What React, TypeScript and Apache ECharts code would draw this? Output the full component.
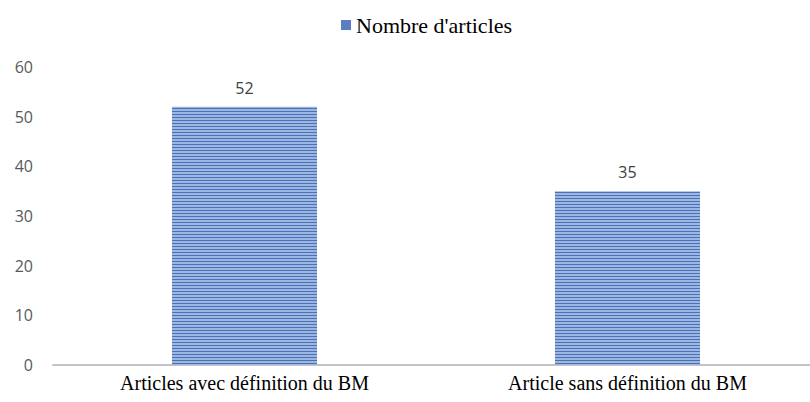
import React, { useEffect, useRef } from "react";
import * as echarts from "echarts";

const categories = ["Articles avec définition du BM", "Article sans définition du BM"];
const values = [52, 35];
const seriesName = "Nombre d'articles";
const yMin = 0;
const yMax = 60;
const yInterval = 10;

export default function App() {
  const ref = useRef<HTMLDivElement>(null);
  useEffect(() => {
    document.body.style.margin = "0";
    document.body.style.overflow = "hidden";
    const chart = echarts.init(ref.current!, null, { renderer: "svg" });
    chart.setOption({
      animation: false,
      backgroundColor: "#ffffff",
      legend: {
        data: [{ name: seriesName, itemStyle: { color: "#5b7ec3", decal: "none" } }],
        left: 336,
        top: 9,
        icon: "rect",
        itemWidth: 10,
        itemHeight: 10,
        itemGap: 4,
        textStyle: { fontFamily: "Liberation Serif", fontSize: 22, color: "#000000" },
      },
      grid: { left: 53, top: 67, width: 766, height: 298, containLabel: false },
      xAxis: {
        type: "category",
        data: categories,
        axisLine: { lineStyle: { color: "#c4c4c4", width: 2 } },
        axisTick: { show: false },
        axisLabel: {
          fontFamily: "Liberation Serif",
          fontSize: 20,
          color: "#000000",
          margin: 8,
        },
      },
      yAxis: {
        type: "value",
        min: yMin,
        max: yMax,
        interval: yInterval,
        axisLine: { show: false },
        axisTick: { show: false },
        splitLine: { show: false },
        axisLabel: {
          fontFamily: "Open Sans",
          fontSize: 16,
          color: "#595959",
          margin: 20,
        },
      },
      series: [
        {
          name: seriesName,
          type: "bar",
          data: values,
          barWidth: 145,
          itemStyle: {
            color: "#9db6e2",
            decal: {
              symbol: "rect",
              symbolSize: 1,
              dashArrayX: [1, 0],
              dashArrayY: [1, 2],
              rotation: 0,
              color: "#4a70b8",
            },
          },
          label: {
            show: true,
            position: "top",
            distance: 11,
            fontFamily: "Open Sans",
            fontSize: 16,
            color: "#404040",
          },
        },
      ],
    });
    return () => chart.dispose();
  }, []);
  return <div ref={ref} style={{ width: 820, height: 402 }} />;
}
